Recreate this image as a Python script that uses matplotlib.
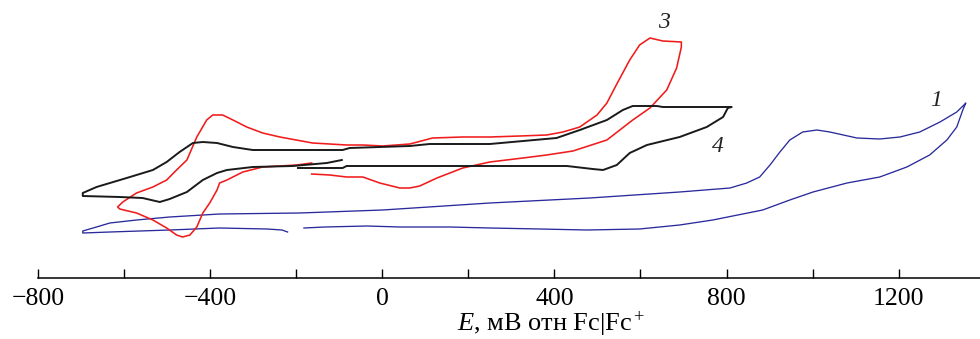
import numpy as np
import matplotlib
matplotlib.use("Agg")
import matplotlib.pyplot as plt

plt.rcParams["font.family"] = ["Liberation Serif", "DejaVu Serif"]
plt.rcParams["mathtext.fontset"] = "custom"
plt.rcParams["mathtext.rm"] = "Liberation Serif"
plt.rcParams["mathtext.it"] = "Liberation Serif:italic"

# curve 1 (blue): potential, mV vs Fc|Fc+ ; current, arb. units
e1 = [-182, -134, -36, 41, 157, 250, 366, 475, 598, 691, 768, 884, 947, 1001, 1080,
      1156, 1219, 1272, 1312, 1335, 1349, 1356,
      1354, 1335, 1296, 1249, 1203, 1156, 1103, 1040, 1010, 977, 947, 924, 901, 877,
      847, 808, 691, 482, 250, 1, -192, -378, -494, -571, -633, -664, -696,
      -696, -633, -494, -378, -268, -233, -220]
i1 = [50, 51, 52, 51, 51, 50, 49, 48, 49, 53, 58, 68, 78, 86, 95,
      101, 111, 123, 138, 151, 168, 175,
      174, 166, 156, 146, 141, 139, 140, 146, 148, 146, 138, 126, 113, 101,
      95, 90, 86, 80, 75, 68, 65, 64, 61, 58, 55, 51, 47,
      45, 46, 48, 50, 49, 48, 46]

# curve 3 (red)
e3 = [-164, -122, -83, -45, -6, 41, 64, 87, 127, 187, 250, 327, 382, 443, 522, 582,
      622, 661, 684, 695, 695, 652, 622, 598, 575, 545, 522, 499, 459, 420, 382,
      320, 250, 187, 117, 64, 1, -45, -83, -162, -238, -278, -315, -347, -371,
      -394, -408, -431, -454, -478, -501, -533, -571, -603, -615,
      -610, -571, -533, -501, -478, -464, -447, -431, -417, -401, -384, -378,
      -361, -324, -278, -199, -164]
i3 = [104, 103, 101, 101, 95, 90, 90, 92, 100, 110, 116, 120, 123, 127, 138, 158,
      170, 188, 210, 231, 236, 237, 240, 233, 218, 194, 175, 163, 151, 146, 143,
      142, 141, 141, 140, 134, 132, 133, 133, 135, 141, 145, 151, 158, 163,
      163, 158, 141, 118, 108, 98, 91, 85, 76, 71,
      69, 65, 58, 50, 43, 41, 43, 51, 65, 75, 88, 95,
      98, 106, 111, 113, 115]

# curve 4 (black)
e4 = [-196, -92, -83, 110, 250, 429, 489, 513, 545, 575, 615, 691, 754, 792, 803, 812,
      652, 638, 582, 559, 522, 459, 405, 250, 110, 64, -76, -92, -301, -347,
      -384, -417, -440, -471, -501, -533, -594, -664, -696,
      -696, -610, -557, -517, -494, -454, -417, -384, -361, -301, -208, -129, -94]
i4 = [110, 110, 112, 112, 112, 112, 109, 108, 113, 125, 133, 141, 151, 161, 170, 171,
      171, 172, 172, 168, 158, 148, 140, 134, 134, 132, 130, 128, 128, 131,
      135, 136, 135, 126, 116, 108, 100, 91, 85,
      82, 81, 80, 76, 79, 86, 98, 105, 108, 111, 112, 115, 118]

labels = ["1", "3", "4"]
label_pos = [(1286, 177), (654, 255), (780, 132)]

fig = plt.figure(figsize=(9.8, 3.39), dpi=100)
ax = fig.add_axes([38 / 980, 61 / 339, 942 / 980, 278 / 339])

ax.plot(e1, i1, color="#2a2a9c", lw=0.95)
ax.plot(e3, i3, color="#f01c1c", lw=1.15)
ax.plot(e4, i4, color="#1a1a1a", lw=1.4)

for t, (x, y) in zip(labels, label_pos):
    ax.text(x, y, t, fontsize=17, fontstyle="italic", ha="center", va="center",
            color="#222222")

ax.set_xlim(-800, 1389)
ax.set_ylim(0, 278)
for s in ["top", "right", "left"]:
    ax.spines[s].set_visible(False)
ax.spines["bottom"].set_linewidth(1.1)
ax.set_yticks([])

ticks = np.arange(-800, 1201, 200)
ax.set_xticks(ticks)
ax.set_xticklabels([f"{t:d}".replace("-", "\u2212") if t % 400 == 0 else "" for t in ticks])
ax.tick_params(axis="x", direction="in", length=6.5, width=1.0, pad=7, labelsize=18.5)

fig.text(551 / 980, 0.0, r"$E$, мВ отн Fc|Fc$^+$", ha="center", va="bottom", fontsize=19)

fig.savefig("out.png", dpi=100)
